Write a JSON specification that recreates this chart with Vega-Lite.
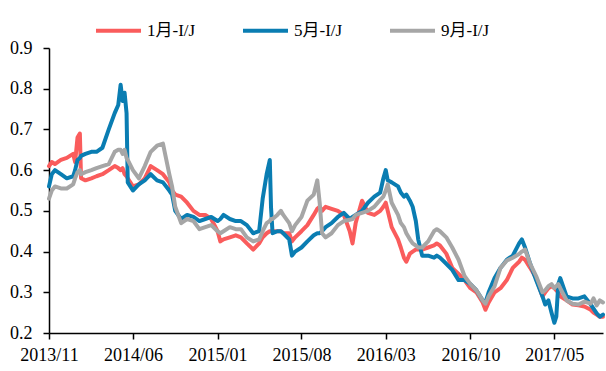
{
  "$schema": "https://vega.github.io/schema/vega-lite/v6.json",
  "autosize": {"type": "none"},
  "width": 554,
  "height": 285,
  "padding": {"left": 49, "top": 48, "right": 3, "bottom": 38},
  "background": "white",
  "config": {
    "view": {"stroke": null},
    "axis": {
      "labelFont": "Liberation Serif",
      "labelFontSize": 18,
      "labelColor": "#000",
      "domainColor": "#000",
      "domainWidth": 1.5,
      "tickColor": "#000",
      "tickWidth": 1.5,
      "tickSize": 6,
      "grid": false,
      "title": null
    }
  },
  "data": {
    "values": [
      {"d":"2013-11-01","1月-I/J":0.61,"5月-I/J":0.56,"9月-I/J":0.53},
      {"d":"2013-11-08","1月-I/J":0.62,"5月-I/J":0.59,"9月-I/J":0.55},
      {"d":"2013-11-16","1月-I/J":0.615,"5月-I/J":0.60,"9月-I/J":0.56},
      {"d":"2013-12-01","1月-I/J":0.625,"5月-I/J":0.59,"9月-I/J":0.555},
      {"d":"2013-12-16","1月-I/J":0.63,"5月-I/J":0.58,"9月-I/J":0.555},
      {"d":"2014-01-01","1月-I/J":0.64,"5月-I/J":0.585,"9月-I/J":0.565},
      {"d":"2014-01-06","1月-I/J":0.62,"5月-I/J":0.60,"9月-I/J":0.58},
      {"d":"2014-01-12","1月-I/J":0.68,"5月-I/J":0.625,"9月-I/J":0.595},
      {"d":"2014-01-18","1月-I/J":0.69,"5月-I/J":0.63,"9月-I/J":0.60},
      {"d":"2014-01-21","1月-I/J":0.58,"5月-I/J":0.635,"9月-I/J":0.59},
      {"d":"2014-02-01","1月-I/J":0.575,"5月-I/J":0.64,"9月-I/J":0.595},
      {"d":"2014-02-16","1月-I/J":0.58,"5月-I/J":0.645,"9月-I/J":0.60},
      {"d":"2014-03-01","1月-I/J":0.585,"5月-I/J":0.645,"9月-I/J":0.605},
      {"d":"2014-03-16","1月-I/J":0.59,"5月-I/J":0.655,"9月-I/J":0.61},
      {"d":"2014-04-01","1月-I/J":0.60,"5月-I/J":0.70,"9月-I/J":0.615},
      {"d":"2014-04-16","1月-I/J":0.61,"5月-I/J":0.74,"9月-I/J":0.645},
      {"d":"2014-04-25","1月-I/J":0.605,"5月-I/J":0.76,"9月-I/J":0.65},
      {"d":"2014-05-01","1月-I/J":0.60,"5月-I/J":0.81,"9月-I/J":0.65},
      {"d":"2014-05-06","1月-I/J":0.605,"5月-I/J":0.77,"9月-I/J":0.64},
      {"d":"2014-05-11","1月-I/J":0.59,"5月-I/J":0.79,"9月-I/J":0.65},
      {"d":"2014-05-16","1月-I/J":0.585,"5月-I/J":0.74,"9月-I/J":0.63},
      {"d":"2014-05-19","1月-I/J":0.58,"5月-I/J":0.57,"9月-I/J":0.625},
      {"d":"2014-06-01","1月-I/J":0.56,"5月-I/J":0.55,"9月-I/J":0.60},
      {"d":"2014-06-16","1月-I/J":0.565,"5月-I/J":0.565,"9月-I/J":0.58},
      {"d":"2014-07-01","1月-I/J":0.58,"5月-I/J":0.575,"9月-I/J":0.61},
      {"d":"2014-07-16","1月-I/J":0.61,"5月-I/J":0.59,"9月-I/J":0.645},
      {"d":"2014-08-01","1月-I/J":0.60,"5月-I/J":0.575,"9月-I/J":0.66},
      {"d":"2014-08-16","1月-I/J":0.59,"5月-I/J":0.57,"9月-I/J":0.665},
      {"d":"2014-09-01","1月-I/J":0.57,"5月-I/J":0.55,"9月-I/J":0.59},
      {"d":"2014-09-08","1月-I/J":0.55,"5月-I/J":0.54,"9月-I/J":0.56},
      {"d":"2014-09-16","1月-I/J":0.54,"5月-I/J":0.50,"9月-I/J":0.51},
      {"d":"2014-10-01","1月-I/J":0.535,"5月-I/J":0.48,"9月-I/J":0.47},
      {"d":"2014-10-16","1月-I/J":0.52,"5月-I/J":0.49,"9月-I/J":0.48},
      {"d":"2014-11-01","1月-I/J":0.50,"5月-I/J":0.485,"9月-I/J":0.475},
      {"d":"2014-11-16","1月-I/J":0.49,"5月-I/J":0.475,"9月-I/J":0.455},
      {"d":"2014-12-01","1月-I/J":0.49,"5月-I/J":0.48,"9月-I/J":0.46},
      {"d":"2014-12-16","1月-I/J":0.48,"5月-I/J":0.485,"9月-I/J":0.465},
      {"d":"2015-01-01","1月-I/J":0.45,"5月-I/J":0.475,"9月-I/J":0.45},
      {"d":"2015-01-08","1月-I/J":0.425,"5月-I/J":0.48,"9月-I/J":0.445},
      {"d":"2015-01-16","1月-I/J":0.43,"5月-I/J":0.49,"9月-I/J":0.45},
      {"d":"2015-02-01","1月-I/J":0.435,"5月-I/J":0.48,"9月-I/J":0.46},
      {"d":"2015-02-16","1月-I/J":0.44,"5月-I/J":0.475,"9月-I/J":0.455},
      {"d":"2015-03-01","1月-I/J":0.435,"5月-I/J":0.475,"9月-I/J":0.455},
      {"d":"2015-03-16","1月-I/J":0.42,"5月-I/J":0.465,"9月-I/J":0.435},
      {"d":"2015-04-01","1月-I/J":0.405,"5月-I/J":0.445,"9月-I/J":0.425},
      {"d":"2015-04-16","1月-I/J":0.42,"5月-I/J":0.45,"9月-I/J":0.43},
      {"d":"2015-04-25","1月-I/J":0.435,"5月-I/J":0.53,"9月-I/J":0.45},
      {"d":"2015-05-05","1月-I/J":0.445,"5月-I/J":0.59,"9月-I/J":0.47},
      {"d":"2015-05-13","1月-I/J":0.45,"5月-I/J":0.625,"9月-I/J":0.475},
      {"d":"2015-05-16","1月-I/J":0.45,"5月-I/J":0.51,"9月-I/J":0.48},
      {"d":"2015-05-20","1月-I/J":0.45,"5月-I/J":0.445,"9月-I/J":0.48},
      {"d":"2015-06-01","1月-I/J":0.45,"5月-I/J":0.45,"9月-I/J":0.49},
      {"d":"2015-06-10","1月-I/J":0.45,"5月-I/J":0.45,"9月-I/J":0.50},
      {"d":"2015-06-16","1月-I/J":0.445,"5月-I/J":0.445,"9月-I/J":0.49},
      {"d":"2015-07-01","1月-I/J":0.445,"5月-I/J":0.43,"9月-I/J":0.47},
      {"d":"2015-07-08","1月-I/J":0.425,"5月-I/J":0.39,"9月-I/J":0.45},
      {"d":"2015-07-16","1月-I/J":0.435,"5月-I/J":0.40,"9月-I/J":0.465},
      {"d":"2015-08-01","1月-I/J":0.45,"5月-I/J":0.41,"9月-I/J":0.485},
      {"d":"2015-08-16","1月-I/J":0.465,"5月-I/J":0.425,"9月-I/J":0.525},
      {"d":"2015-09-01","1月-I/J":0.49,"5月-I/J":0.44,"9月-I/J":0.54},
      {"d":"2015-09-10","1月-I/J":0.505,"5月-I/J":0.445,"9月-I/J":0.575},
      {"d":"2015-09-16","1月-I/J":0.51,"5月-I/J":0.445,"9月-I/J":0.52},
      {"d":"2015-09-22","1月-I/J":0.50,"5月-I/J":0.45,"9月-I/J":0.445},
      {"d":"2015-10-01","1月-I/J":0.51,"5月-I/J":0.46,"9月-I/J":0.435},
      {"d":"2015-10-16","1月-I/J":0.505,"5月-I/J":0.47,"9月-I/J":0.445},
      {"d":"2015-11-01","1月-I/J":0.50,"5月-I/J":0.485,"9月-I/J":0.465},
      {"d":"2015-11-16","1月-I/J":0.49,"5月-I/J":0.495,"9月-I/J":0.475},
      {"d":"2015-12-01","1月-I/J":0.45,"5月-I/J":0.48,"9月-I/J":0.478},
      {"d":"2015-12-08","1月-I/J":0.42,"5月-I/J":0.485,"9月-I/J":0.48},
      {"d":"2015-12-16","1月-I/J":0.47,"5月-I/J":0.49,"9月-I/J":0.49},
      {"d":"2016-01-01","1月-I/J":0.525,"5月-I/J":0.50,"9月-I/J":0.495},
      {"d":"2016-01-16","1月-I/J":0.495,"5月-I/J":0.52,"9月-I/J":0.50},
      {"d":"2016-02-01","1月-I/J":0.49,"5月-I/J":0.535,"9月-I/J":0.51},
      {"d":"2016-02-16","1月-I/J":0.50,"5月-I/J":0.545,"9月-I/J":0.527},
      {"d":"2016-02-24","1月-I/J":0.51,"5月-I/J":0.58,"9月-I/J":0.535},
      {"d":"2016-03-01","1月-I/J":0.52,"5月-I/J":0.60,"9月-I/J":0.55},
      {"d":"2016-03-06","1月-I/J":0.50,"5月-I/J":0.575,"9月-I/J":0.565},
      {"d":"2016-03-16","1月-I/J":0.46,"5月-I/J":0.57,"9月-I/J":0.52},
      {"d":"2016-04-01","1月-I/J":0.43,"5月-I/J":0.56,"9月-I/J":0.49},
      {"d":"2016-04-08","1月-I/J":0.41,"5月-I/J":0.545,"9月-I/J":0.47},
      {"d":"2016-04-16","1月-I/J":0.385,"5月-I/J":0.535,"9月-I/J":0.46},
      {"d":"2016-04-22","1月-I/J":0.375,"5月-I/J":0.54,"9月-I/J":0.445},
      {"d":"2016-05-01","1月-I/J":0.395,"5月-I/J":0.525,"9月-I/J":0.43},
      {"d":"2016-05-08","1月-I/J":0.40,"5月-I/J":0.51,"9月-I/J":0.42},
      {"d":"2016-05-16","1月-I/J":0.405,"5月-I/J":0.475,"9月-I/J":0.415},
      {"d":"2016-05-22","1月-I/J":0.405,"5月-I/J":0.43,"9月-I/J":0.41},
      {"d":"2016-06-01","1月-I/J":0.405,"5月-I/J":0.39,"9月-I/J":0.41},
      {"d":"2016-06-16","1月-I/J":0.41,"5月-I/J":0.39,"9月-I/J":0.425},
      {"d":"2016-07-01","1月-I/J":0.415,"5月-I/J":0.385,"9月-I/J":0.45},
      {"d":"2016-07-08","1月-I/J":0.42,"5月-I/J":0.39,"9月-I/J":0.455},
      {"d":"2016-07-16","1月-I/J":0.415,"5月-I/J":0.385,"9月-I/J":0.45},
      {"d":"2016-08-01","1月-I/J":0.395,"5月-I/J":0.37,"9月-I/J":0.435},
      {"d":"2016-08-16","1月-I/J":0.36,"5月-I/J":0.355,"9月-I/J":0.41},
      {"d":"2016-09-01","1月-I/J":0.345,"5月-I/J":0.33,"9月-I/J":0.38},
      {"d":"2016-09-16","1月-I/J":0.33,"5月-I/J":0.33,"9月-I/J":0.34},
      {"d":"2016-10-01","1月-I/J":0.31,"5月-I/J":0.32,"9月-I/J":0.32},
      {"d":"2016-10-16","1月-I/J":0.30,"5月-I/J":0.305,"9月-I/J":0.305},
      {"d":"2016-11-01","1月-I/J":0.275,"5月-I/J":0.28,"9月-I/J":0.28},
      {"d":"2016-11-08","1月-I/J":0.257,"5月-I/J":0.275,"9月-I/J":0.272},
      {"d":"2016-11-16","1月-I/J":0.275,"5月-I/J":0.30,"9月-I/J":0.29},
      {"d":"2016-12-01","1月-I/J":0.30,"5月-I/J":0.335,"9月-I/J":0.315},
      {"d":"2016-12-16","1月-I/J":0.31,"5月-I/J":0.36,"9月-I/J":0.36},
      {"d":"2017-01-01","1月-I/J":0.33,"5月-I/J":0.38,"9月-I/J":0.378},
      {"d":"2017-01-16","1月-I/J":0.36,"5月-I/J":0.39,"9月-I/J":0.385},
      {"d":"2017-02-01","1月-I/J":0.375,"5月-I/J":0.42,"9月-I/J":0.394},
      {"d":"2017-02-08","1月-I/J":0.385,"5月-I/J":0.43,"9月-I/J":0.40},
      {"d":"2017-02-16","1月-I/J":0.38,"5月-I/J":0.41,"9月-I/J":0.405},
      {"d":"2017-03-01","1月-I/J":0.36,"5月-I/J":0.37,"9月-I/J":0.37},
      {"d":"2017-03-16","1月-I/J":0.335,"5月-I/J":0.33,"9月-I/J":0.34},
      {"d":"2017-04-01","1月-I/J":0.29,"5月-I/J":0.29,"9月-I/J":0.30},
      {"d":"2017-04-08","1月-I/J":0.30,"5月-I/J":0.27,"9月-I/J":0.305},
      {"d":"2017-04-16","1月-I/J":0.31,"5月-I/J":0.28,"9月-I/J":0.315},
      {"d":"2017-04-24","1月-I/J":0.315,"5月-I/J":0.25,"9月-I/J":0.32},
      {"d":"2017-05-01","1月-I/J":0.31,"5月-I/J":0.225,"9月-I/J":0.31},
      {"d":"2017-05-06","1月-I/J":0.305,"5月-I/J":0.24,"9月-I/J":0.315},
      {"d":"2017-05-11","1月-I/J":0.30,"5月-I/J":0.32,"9月-I/J":0.32},
      {"d":"2017-05-16","1月-I/J":0.29,"5月-I/J":0.335,"9月-I/J":0.31},
      {"d":"2017-06-01","1月-I/J":0.28,"5月-I/J":0.29,"9月-I/J":0.28},
      {"d":"2017-06-16","1月-I/J":0.27,"5月-I/J":0.285,"9月-I/J":0.272},
      {"d":"2017-07-01","1月-I/J":0.268,"5月-I/J":0.285,"9月-I/J":0.27},
      {"d":"2017-07-16","1月-I/J":0.265,"5月-I/J":0.29,"9月-I/J":0.277},
      {"d":"2017-08-01","1月-I/J":0.257,"5月-I/J":0.27,"9月-I/J":0.272},
      {"d":"2017-08-08","1月-I/J":0.25,"5月-I/J":0.26,"9月-I/J":0.285},
      {"d":"2017-08-16","1月-I/J":0.245,"5月-I/J":0.248,"9月-I/J":0.268},
      {"d":"2017-08-24","1月-I/J":0.24,"5月-I/J":0.24,"9月-I/J":0.28},
      {"d":"2017-09-01","1月-I/J":0.24,"5月-I/J":0.245,"9月-I/J":0.275}
    ]
  },
  "transform": [
    {"fold": ["1月-I/J", "5月-I/J", "9月-I/J"], "as": ["series", "value"]}
  ],
  "mark": {"type": "line", "strokeWidth": 4, "strokeJoin": "round", "strokeCap": "round"},
  "encoding": {
    "x": {
      "field": "d",
      "type": "temporal",
      "scale": {"domain": ["2013-11-01", "2017-09-01"], "nice": false},
      "axis": {
        "values": ["2013-11-01", "2014-06-01", "2015-01-01", "2015-08-01", "2016-03-01", "2016-10-01", "2017-05-01"],
        "format": "%Y/%m",
        "labelPadding": 7,
        "labelFlush": false,
        "labelOverlap": false
      }
    },
    "y": {
      "field": "value",
      "type": "quantitative",
      "scale": {"domain": [0.2, 0.9], "nice": false, "zero": false},
      "axis": {
        "values": [0.2, 0.3, 0.4, 0.5, 0.6, 0.7, 0.8, 0.9],
        "format": ".1f",
        "labelPadding": 11
      }
    },
    "color": {
      "field": "series",
      "type": "nominal",
      "scale": {"domain": ["1月-I/J", "5月-I/J", "9月-I/J"], "range": ["#fa5c5c", "#0a7db2", "#a6a6a6"]},
      "legend": {
        "title": null,
        "orient": "none",
        "legendX": 45,
        "legendY": -42,
        "direction": "horizontal",
        "symbolType": "stroke",
        "symbolSize": 2025,
        "symbolStrokeWidth": 4,
        "labelFont": "Liberation Serif, Noto Sans CJK SC",
        "labelFontSize": 17,
        "labelColor": "#000",
        "labelOffset": 4,
        "columnPadding": 39
      }
    }
  }
}
